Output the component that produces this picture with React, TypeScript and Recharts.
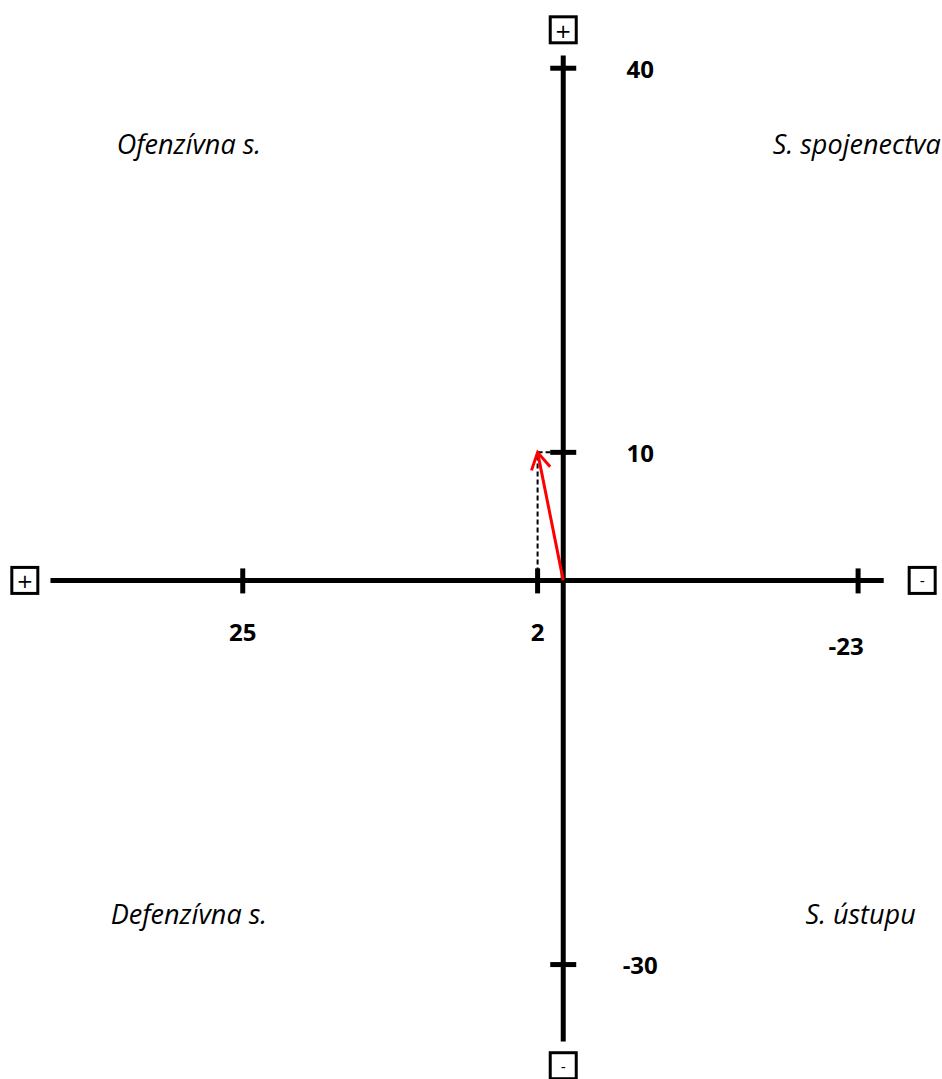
import React from "react";
import { ComposedChart, XAxis, YAxis, ReferenceLine, Scatter } from "recharts";

// tick values on the two axes
const xTicks = [25, 2, -23];
const yTicks = [40, 10, -30];

// how far each axis line reaches
const xAxisRange = [40, -25];
const yAxisRange = [41, -36];

// the resulting position
const vector = { x: 2, y: 10 };

// quadrant captions and where they sit (data space, baseline)
const quadrantNames = ["Ofenzívna s.", "S. spojenectva", "Defenzívna s.", "S. ústupu"];
const quadrantX = [29.2, -22.9, 29.2, -23.2];
const quadrantY = [33.3, 33.3, -26.8, -26.8];

// +/- boxes at the ends of the axes
const signs = ["+", "-", "+", "-"];
const signX = [0, 0, 42, -28];
const signY = [43, -37.9, 0, 0];

const FONT = "'Open Sans', sans-serif";

const xTickData = xTicks.map((v) => ({ x: v, y: 0, label: String(v) }));
const yTickData = yTicks.map((v) => ({ x: 0, y: v, label: String(v) }));
const quadrantData = quadrantNames.map((name, i) => ({ x: quadrantX[i], y: quadrantY[i], label: name }));
const signData = signs.map((s, i) => ({ x: signX[i], y: signY[i], label: s }));

function XTick(props: any) {
  const { cx, cy, payload } = props;
  const far = payload.x < -20;
  return (
    <g>
      <line x1={cx} x2={cx} y1={cy - 12} y2={cy + 13} stroke="#000" strokeWidth={5} />
      <text
        x={cx + (far ? -12 : 0)}
        y={cy + (far ? 65 : 51)}
        textAnchor="middle"
        dominantBaseline="central"
        fontFamily={FONT}
        fontWeight={700}
        fontSize={24}
        fill="#000"
      >
        {payload.label}
      </text>
    </g>
  );
}

function YTick(props: any) {
  const { cx, cy, payload } = props;
  return (
    <g>
      <line x1={cx - 13} x2={cx + 13} y1={cy} y2={cy} stroke="#000" strokeWidth={5} />
      <text
        x={cx + 77}
        y={cy}
        textAnchor="middle"
        dominantBaseline="central"
        fontFamily={FONT}
        fontWeight={700}
        fontSize={24}
        fill="#000"
      >
        {payload.label}
      </text>
    </g>
  );
}

function Caption(props: any) {
  const { cx, cy, payload } = props;
  return (
    <text x={cx} y={cy} textAnchor="middle" fontFamily={FONT} fontStyle="italic" fontSize={27} fill="#000">
      {payload.label}
    </text>
  );
}

function SignBox(props: any) {
  const { cx, cy, payload } = props;
  return (
    <g>
      <rect x={cx - 13} y={cy - 13} width={26} height={26} fill="#fff" stroke="#000" strokeWidth={3} />
      <text
        x={cx}
        y={cy + 1}
        textAnchor="middle"
        dominantBaseline="central"
        fontFamily="'DejaVu Sans', sans-serif"
        fontSize={payload.label === "+" ? 20 : 14}
        fill="#000"
      >
        {payload.label}
      </text>
    </g>
  );
}

function Arrow(props: any) {
  const { x1, y1, x2, y2 } = props;
  const ang = Math.atan2(y1 - y2, x1 - x2);
  const len = 19;
  const spread = Math.PI / 6;
  const ax = x2 + len * Math.cos(ang + spread);
  const ay = y2 + len * Math.sin(ang + spread);
  const bx = x2 + len * Math.cos(ang - spread);
  const by = y2 + len * Math.sin(ang - spread);
  return (
    <g>
      <line x1={x1} y1={y1} x2={x2} y2={y2} stroke="#ff0000" strokeWidth={3} />
      <polyline
        points={`${ax},${ay} ${x2},${y2} ${bx},${by}`}
        fill="none"
        stroke="#ff0000"
        strokeWidth={3}
      />
    </g>
  );
}

export default function App() {
  return (
    <div style={{ position: "absolute", left: 0, top: 0, background: "#fff" }}>
      <ComposedChart width={942} height={1079} margin={{ top: 17, right: 7, bottom: 12, left: 12 }}>
        <XAxis type="number" dataKey="x" domain={[-29, 43]} reversed hide />
        <YAxis type="number" dataKey="y" domain={[-38, 44]} hide />

        {/* axes */}
        <ReferenceLine
          segment={[{ x: xAxisRange[0], y: 0 }, { x: xAxisRange[1], y: 0 }]}
          stroke="#000"
          strokeWidth={5}
        />
        <ReferenceLine
          segment={[{ x: 0, y: yAxisRange[0] }, { x: 0, y: yAxisRange[1] }]}
          stroke="#000"
          strokeWidth={5}
        />

        {/* projections of the vector */}
        <ReferenceLine
          segment={[{ x: vector.x, y: 0 }, { x: vector.x, y: vector.y }]}
          stroke="#000"
          strokeWidth={2}
          strokeDasharray="5 3"
        />
        <ReferenceLine
          segment={[{ x: vector.x, y: vector.y }, { x: 0, y: vector.y }]}
          stroke="#000"
          strokeWidth={2}
          strokeDasharray="5 3"
        />

        <Scatter data={xTickData} dataKey="y" shape={XTick} isAnimationActive={false} />
        <Scatter data={yTickData} dataKey="y" shape={YTick} isAnimationActive={false} />
        <Scatter data={quadrantData} dataKey="y" shape={Caption} isAnimationActive={false} />
        <Scatter data={signData} dataKey="y" shape={SignBox} isAnimationActive={false} />

        {/* the vector itself */}
        <ReferenceLine
          segment={[{ x: 0, y: 0 }, { x: vector.x, y: vector.y }]}
          shape={Arrow}
        />
      </ComposedChart>
    </div>
  );
}
